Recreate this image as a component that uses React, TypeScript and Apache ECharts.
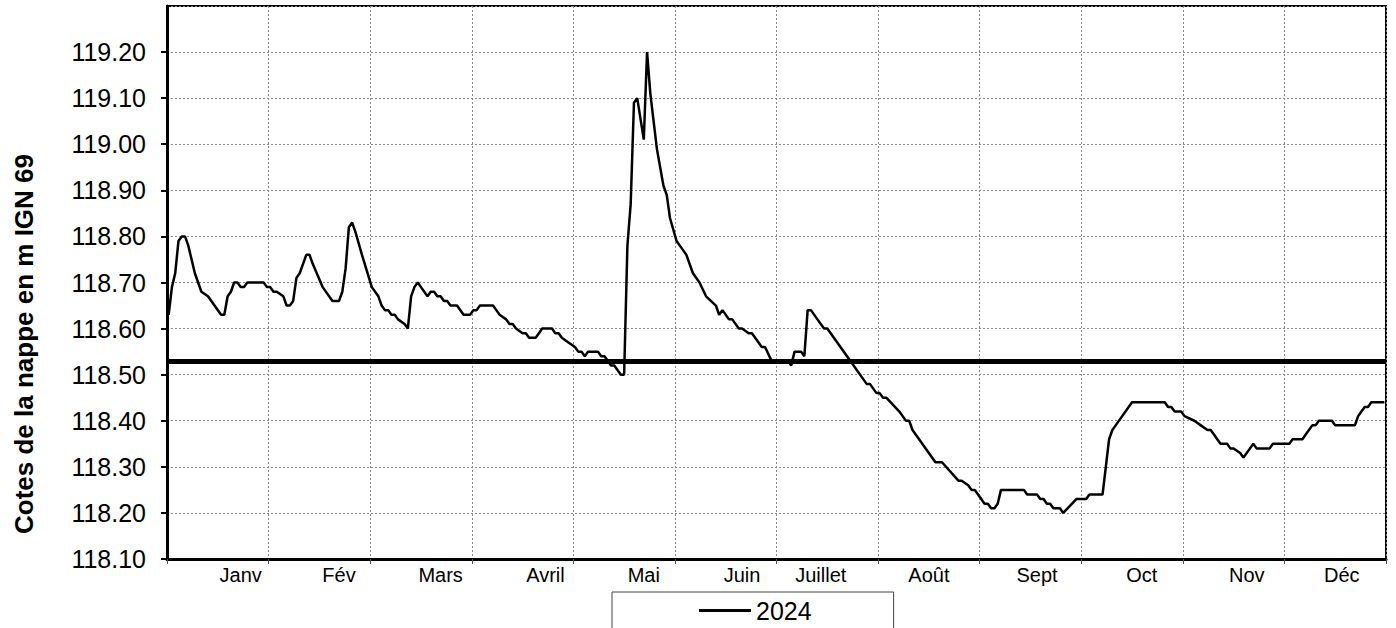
import React, { useEffect, useRef } from "react";
import * as echarts from "echarts";

// Daily groundwater level readings (vertices of the hydrograph), 2024
const dates = [
  "01-01","01-02","01-03","01-04","01-05","01-06","01-07","01-09","01-11","01-13","01-17","01-18","01-19","01-20","01-21","01-22","01-23","01-24","01-25","01-30","01-31",
  "02-01","02-02","02-03","02-05","02-06","02-07","02-08","02-09","02-10","02-12","02-13","02-14","02-17","02-20","02-22","02-23","02-24","02-25","02-26","02-27","02-29",
  "03-01","03-03","03-04","03-05","03-06","03-07","03-08","03-09","03-11","03-12","03-13","03-14","03-15","03-16","03-18","03-19","03-20","03-21","03-22","03-23","03-24","03-25","03-27","03-29","03-31",
  "04-01","04-02","04-03","04-07","04-08","04-09","04-11","04-12","04-13","04-14","04-16","04-17","04-18","04-20","04-21","04-22","04-25","04-26","04-27","04-28","04-30",
  "05-01","05-02","05-03","05-04","05-05","05-08","05-09","05-10","05-11","05-12","05-13","05-15","05-16","05-17","05-18","05-19","05-20","05-22","05-23","05-24","05-26","05-28","05-29","05-30",
  "06-01","06-02","06-04","06-06","06-08","06-10","06-13","06-14","06-15","06-17","06-18","06-20","06-21","06-23","06-24","06-27","06-28","06-30",
  "07-04","07-05","07-06","07-08","07-09","07-10","07-11","07-13","07-15","07-16","07-23","07-28","07-29","07-31",
  "08-01","08-02","08-03","08-07","08-08","08-09","08-10","08-11","08-18","08-20","08-25","08-26","08-28","08-29","08-30","08-31",
  "09-02","09-03","09-04","09-05","09-06","09-07","09-14","09-15","09-18","09-19","09-20","09-21","09-22","09-23","09-25","09-26","09-30",
  "10-02","10-03","10-07","10-08","10-09","10-10","10-11","10-16","10-26","10-27","10-28","10-29","10-31",
  "11-01","11-04","11-06","11-08","11-09","11-10","11-11","11-12","11-14","11-15","11-16","11-18","11-19","11-21","11-22","11-23","11-27","11-28","11-30",
  "12-02","12-03","12-06","12-07","12-09","12-10","12-11","12-15","12-16","12-22","12-23","12-24","12-25","12-26","12-27","12-31",
];

const levels = [
  118.63,118.69,118.72,118.79,118.80,118.80,118.78,118.72,118.68,118.67,118.63,118.63,118.67,118.68,118.70,118.70,118.69,118.69,118.70,118.70,118.69,
  118.69,118.68,118.68,118.67,118.65,118.65,118.66,118.71,118.72,118.76,118.76,118.74,118.69,118.66,118.66,118.68,118.73,118.82,118.83,118.81,118.76,
  118.69,118.67,118.65,118.64,118.64,118.63,118.63,118.62,118.61,118.60,118.67,118.69,118.70,118.69,118.67,118.68,118.68,118.67,118.67,118.66,118.66,118.65,118.65,118.63,118.63,
  118.64,118.64,118.65,118.65,118.64,118.63,118.62,118.61,118.61,118.60,118.59,118.59,118.58,118.58,118.59,118.60,118.60,118.59,118.59,118.58,118.57,
  118.56,118.55,118.55,118.54,118.55,118.55,118.54,118.54,118.53,118.52,118.52,118.50,118.50,118.78,118.87,119.09,119.10,119.01,119.20,119.11,118.99,118.91,118.89,118.84,
  118.79,118.78,118.76,118.72,118.70,118.67,118.65,118.63,118.64,118.62,118.62,118.60,118.60,118.59,118.59,118.56,118.56,118.53,
  118.53,118.52,118.55,118.55,118.54,118.64,118.64,118.62,118.60,118.60,118.53,118.48,118.48,118.46,
  118.46,118.45,118.45,118.42,118.41,118.40,118.40,118.38,118.31,118.31,118.27,118.27,118.26,118.25,118.25,118.24,
  118.22,118.22,118.21,118.21,118.22,118.25,118.25,118.24,118.24,118.23,118.23,118.22,118.22,118.21,118.21,118.20,118.23,
  118.23,118.24,118.24,118.30,118.36,118.38,118.39,118.44,118.44,118.43,118.43,118.42,118.42,
  118.41,118.40,118.39,118.38,118.38,118.37,118.36,118.35,118.35,118.34,118.34,118.33,118.32,118.34,118.35,118.34,118.34,118.35,118.35,
  118.35,118.36,118.36,118.37,118.39,118.39,118.40,118.40,118.39,118.39,118.41,118.42,118.43,118.43,118.44,118.44,
];

const monthNames = ["Janv", "Fév", "Mars", "Avril", "Mai", "Juin", "Juillet", "Août", "Sept", "Oct", "Nov", "Déc"];
// day of the month under which each month label sits
const monthLabelDays = [23, 22, 22, 23, 22, 21, 14, 16, 18, 19, 20, 18];

const referenceLevel = 118.53;
const seriesName = "2024";
const yAxisTitle = "Cotes de la nappe en m IGN 69";
const yMin = 118.1;
const yMax = 119.3;
const yStep = 0.1;

const SLOTS_PER_MONTH = 31;
const MONTHS = 12;
const FONT = 'Arial, "Liberation Sans", Helvetica, sans-serif';

function slotOf(mmdd: string): number {
  const [m, d] = mmdd.split("-").map(Number);
  return (m - 1) * SLOTS_PER_MONTH + d - 0.5;
}

export default function App() {
  const ref = useRef<HTMLDivElement>(null);

  useEffect(() => {
    if (!ref.current) return;
    const chart = echarts.init(ref.current, undefined, { renderer: "svg" });

    const totalSlots = SLOTS_PER_MONTH * MONTHS;
    const labelCats: string[] = new Array(totalSlots).fill("");
    monthNames.forEach((n, i) => {
      labelCats[i * SLOTS_PER_MONTH + monthLabelDays[i] - 1] = n;
    });

    const seriesData = dates.map((d, i) => [slotOf(d), levels[i]]);
    const gridLine = { color: "#8a8a8a", width: 1, type: [2, 2] as any };

    chart.setOption({
      animation: false,
      backgroundColor: "#ffffff",
      textStyle: { fontFamily: FONT },
      grid: {
        left: 167,
        right: 10,
        top: 6,
        bottom: 69,
        show: true,
        borderColor: "#000",
        borderWidth: 2,
        containLabel: false,
        outerBoundsMode: "none",
      } as any,
      xAxis: [
        {
          type: "value",
          min: 0,
          max: totalSlots,
          interval: SLOTS_PER_MONTH,
          position: "bottom",
          axisLine: { show: true, onZero: false, lineStyle: { color: "#000", width: 3 } },
          axisTick: { show: true, length: 5, lineStyle: { color: "#555", width: 1 } },
          axisLabel: { show: false },
          splitLine: { show: true, lineStyle: gridLine },
        },
        {
          type: "category",
          data: labelCats,
          position: "bottom",
          boundaryGap: true,
          axisLine: { show: false },
          axisTick: { show: false },
          splitLine: { show: false },
          axisLabel: {
            show: true,
            interval: (_idx: number, val: string) => val !== "",
            margin: 6,
            fontSize: 20,
            color: "#000",
            fontFamily: FONT,
          },
        },
      ],
      yAxis: {
        type: "value",
        min: yMin,
        max: yMax,
        interval: yStep,
        axisLine: { show: true, onZero: false, lineStyle: { color: "#000", width: 3 } },
        axisTick: { show: true, length: 6, lineStyle: { color: "#000", width: 2 } },
        axisLabel: {
          show: true,
          margin: 21,
          fontSize: 25,
          color: "#000",
          fontFamily: FONT,
          showMaxLabel: false,
          formatter: (v: number) => v.toFixed(2),
        },
        splitLine: { show: true, lineStyle: gridLine },
      },
      legend: {
        data: [seriesName],
        left: 612,
        top: 592,
        padding: [6, 82, 40, 87],
        borderColor: "#444",
        borderWidth: 1,
        backgroundColor: "#fff",
        itemWidth: 52,
        itemHeight: 3,
        icon: "rect",
        textStyle: { fontSize: 25, color: "#000", fontFamily: FONT },
      },
      graphic: [
        {
          type: "text",
          x: 24,
          y: 344,
          rotation: Math.PI / 2,
          style: {
            text: yAxisTitle,
            fontSize: 26,
            fontWeight: "bold",
            fontFamily: FONT,
            fill: "#000",
            textAlign: "center",
            textVerticalAlign: "middle",
            align: "center",
            verticalAlign: "middle",
          },
        },
      ],
      series: [
        {
          name: seriesName,
          type: "line",
          xAxisIndex: 0,
          data: seriesData,
          symbol: "none",
          lineStyle: { color: "#000", width: 2.5 },
          itemStyle: { color: "#000" },
          markLine: {
            silent: true,
            symbol: "none",
            label: { show: false },
            lineStyle: { color: "#000", width: 5, type: "solid" },
            data: [{ yAxis: referenceLevel }],
          },
        },
      ],
    });

    return () => chart.dispose();
  }, []);

  return (
    <div
      ref={ref}
      style={{ position: "fixed", left: 0, top: 0, width: 1396, height: 628 }}
    />
  );
}
